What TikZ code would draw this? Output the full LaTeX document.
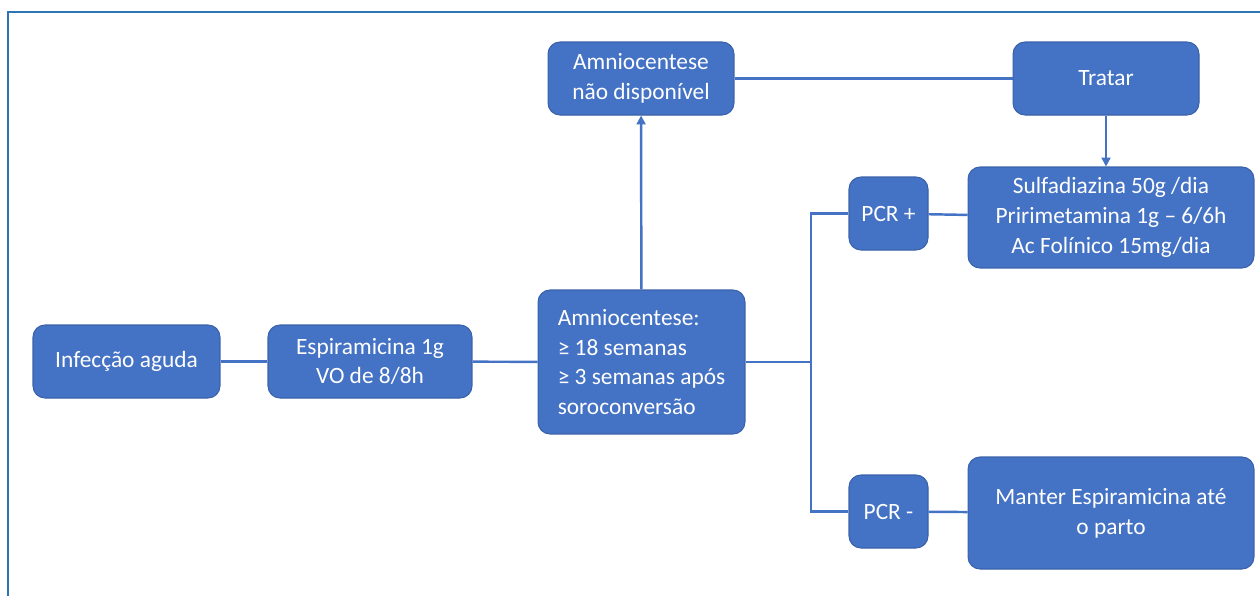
\documentclass[tikz,border=0pt]{standalone}
\usepackage{fontspec}
\setmainfont{Carlito}
\usetikzlibrary{arrows.meta}
\definecolor{azul}{HTML}{4472C4}
\definecolor{borda}{HTML}{3A62AA}
\definecolor{moldura}{HTML}{2E75B6}

\begin{document}
\begin{tikzpicture}[x=0.02cm, y=-0.02cm,
	caixa/.style={draw=borda, fill=azul, text=white, rounded corners=0.24cm, line width=0.6pt,
		font=\fontsize{13.3}{17}\selectfont, align=center, inner sep=0pt},
	liga/.style={draw=azul, line width=1.4pt},
	seta/.style={liga, -{Triangle[length=5pt,width=5pt]}}]
	\useasboundingbox (0,0) rectangle (1260,596);
	\draw[moldura, line width=1.1pt] (8,596) -- (8,12) -- (1260,12);

	\node[caixa, minimum width=3.74cm, minimum height=1.46cm] (infec) at (126.5,361.5) {Infecção aguda};
	\node[caixa, minimum width=4.08cm, minimum height=1.46cm] (espira) at (370,361.5) {Espiramicina 1g\\VO de 8/8h};
	\node[caixa, align=left, minimum width=4.14cm, minimum height=2.88cm] (amnio) at (641.5,362)
		{Amniocentese:\\≥ 18 semanas\\≥ 3 semanas após\\soroconversão};
	\node[caixa, minimum width=3.72cm, minimum height=1.46cm] (naodisp) at (641,78.5) {Amniocentese\\não disponível};
	\node[caixa, minimum width=3.72cm, minimum height=1.46cm] (tratar) at (1106,78.5) {Tratar};
	\node[caixa, minimum width=5.72cm, minimum height=2.02cm] (sulfa) at (1111,217.5)
		{Sulfadiazina 50g /dia\\Pririmetamina 1g – 6/6h\\Ac Folínico 15mg/dia};
	\node[caixa, minimum width=1.58cm, minimum height=1.46cm] (pcrmais) at (888.5,213.5) {PCR +};
	\node[caixa, minimum width=1.58cm, minimum height=1.46cm] (pcrmenos) at (888.5,511.5) {PCR -};
	\node[caixa, minimum width=5.72cm, minimum height=2.24cm] (manter) at (1111,513) {Manter Espiramicina até\\o parto};
	\coordinate (ramo) at (811,362);

	\draw[liga] (infec) -- (espira);
	\draw[liga] (espira) -- (amnio);
	\draw[liga] (amnio) -- (ramo);
	\draw[liga] (ramo) |- (pcrmais);
	\draw[liga] (ramo) |- (pcrmenos);
	\draw[seta] (amnio) -- (naodisp);
	\draw[liga] (naodisp) -- (tratar);
	\draw[seta] (tratar) -- (tratar |- sulfa.north);
	\draw[liga] (pcrmais) -- (sulfa);
	\draw[liga] (pcrmenos) -- (manter);
\end{tikzpicture}
\end{document}
